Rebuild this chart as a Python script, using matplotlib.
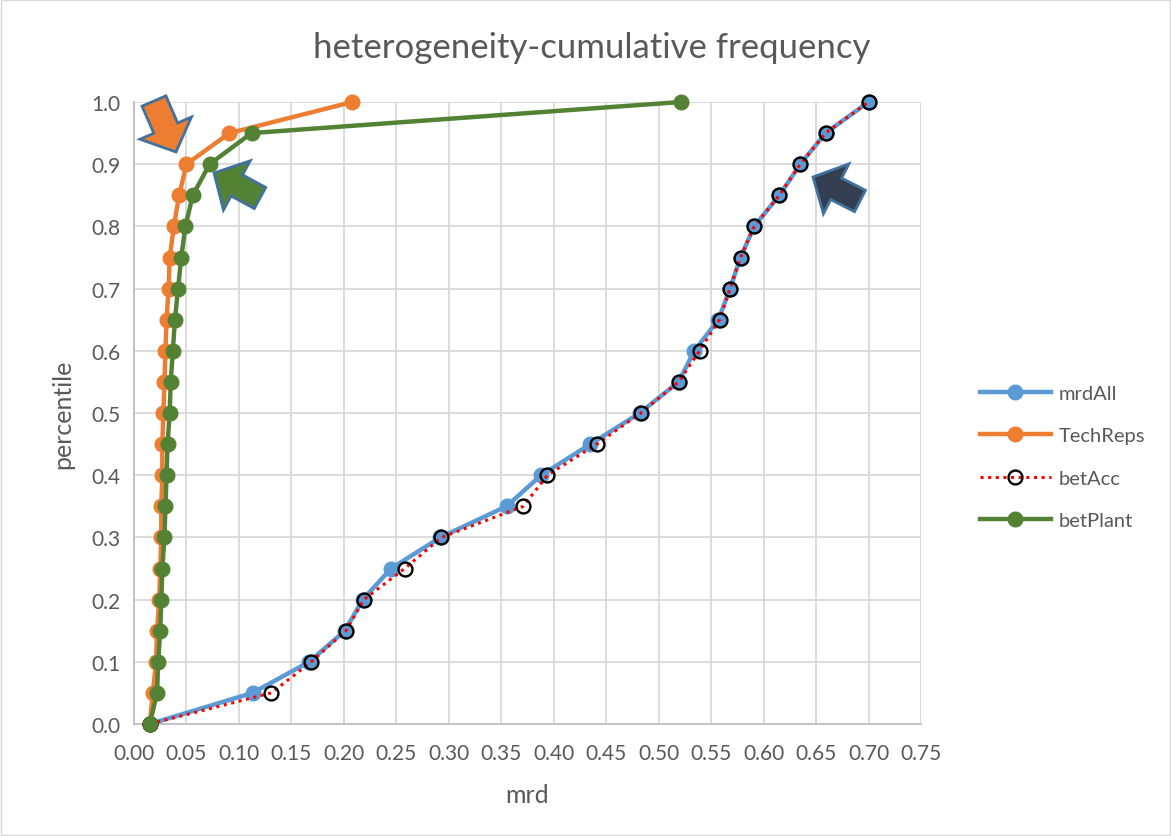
import numpy as np
import matplotlib
matplotlib.use('Agg')
import matplotlib.pyplot as plt
from matplotlib.patches import Polygon, Rectangle

plt.rcParams['font.family'] = ['Lato', 'DejaVu Sans']

percentile = [0.0, 0.05, 0.10, 0.15, 0.20, 0.25, 0.30, 0.35, 0.40, 0.45, 0.50,
              0.55, 0.60, 0.65, 0.70, 0.75, 0.80, 0.85, 0.90, 0.95, 1.0]

mrdAll = [0.015, 0.113, 0.167, 0.201, 0.218, 0.245, 0.292, 0.355, 0.388, 0.435, 0.482,
          0.519, 0.534, 0.557, 0.568, 0.578, 0.591, 0.615, 0.635, 0.659, 0.700]
techReps = [0.015, 0.018, 0.021, 0.022, 0.024, 0.025, 0.026, 0.026, 0.027, 0.027, 0.028,
            0.029, 0.030, 0.031, 0.033, 0.034, 0.038, 0.043, 0.050, 0.091, 0.208]
betAcc = [0.015, 0.131, 0.169, 0.202, 0.219, 0.258, 0.293, 0.371, 0.394, 0.441, 0.483,
          0.519, 0.539, 0.558, 0.568, 0.578, 0.591, 0.615, 0.635, 0.659, 0.700]
betPlant = [0.015, 0.022, 0.023, 0.025, 0.026, 0.027, 0.029, 0.030, 0.031, 0.032, 0.034,
            0.035, 0.037, 0.039, 0.042, 0.045, 0.049, 0.056, 0.072, 0.112, 0.521]

xticks = np.arange(0, 0.751, 0.05)
yticks = np.arange(0, 1.01, 0.1)

W, H = 1171, 837
fig = plt.figure(figsize=(W / 100, H / 100), dpi=100)
ax = fig.add_axes([134 / W, 1 - 725 / H, (921 - 134) / W, (725 - 103) / H])

blue = '#5B9BD5'
orange = '#ED7D31'
green = '#548235'
txt = '#595959'

ax.plot(mrdAll, percentile, color=blue, lw=3.2, marker='o', ms=10.5, label='mrdAll',
        zorder=3, clip_on=False)
ax.plot(techReps, percentile, color=orange, lw=3.2, marker='o', ms=10.5, label='TechReps',
        zorder=4, clip_on=False)
ax.plot(betAcc, percentile, color='red', lw=2.2, ls=(0, (1, 1.5)), marker='o', ms=10,
        mfc='none', mec='black', mew=1.7, label='betAcc', zorder=5, clip_on=False)
ax.plot(betPlant, percentile, color=green, lw=3.2, marker='o', ms=10.5, label='betPlant',
        zorder=6, clip_on=False)

ax.set_xlim(0, 0.75)
ax.set_ylim(0, 1.0)
ax.set_xticks(xticks)
ax.set_yticks(yticks)
ax.set_xticklabels(['%.2f' % v for v in xticks])
ax.set_yticklabels(['%.1f' % v for v in yticks])
ax.tick_params(length=0, labelsize=15, colors=txt)
ax.tick_params(axis='x', pad=14)
ax.tick_params(axis='y', pad=10)
ax.grid(color='#D9D9D9', lw=1.3)
ax.set_axisbelow(True)
for s in ['top', 'right']:
    ax.spines[s].set_visible(False)
for s in ['left', 'bottom']:
    ax.spines[s].set_color('#BFBFBF')
    ax.spines[s].set_linewidth(1.3)

ax.set_xlabel('mrd', fontsize=18, color=txt, labelpad=14)
ax.set_ylabel('percentile', fontsize=18, color=txt, labelpad=12)
fig.text(592 / W, 1 - 48 / H, 'heterogeneity-cumulative frequency', fontsize=25,
         color=txt, ha='center', va='center')

leg = fig.legend(loc='center left', bbox_to_anchor=(962 / W, 1 - 458 / H), frameon=False,
                 fontsize=14.5, labelcolor=txt, handlelength=3.5, labelspacing=1.25,
                 handletextpad=0.4)


def block_arrow(tail, tip, shaft_w, head_w, head_len, fc, ec='#41719C'):
    tail = np.array(tail, float)
    tip = np.array(tip, float)
    d = tip - tail
    L = np.hypot(*d)
    u = d / L
    n = np.array([-u[1], u[0]])
    base = tip - u * head_len
    pts = [tail + n * shaft_w / 2, base + n * shaft_w / 2, base + n * head_w / 2, tip,
           base - n * head_w / 2, base - n * shaft_w / 2, tail - n * shaft_w / 2]
    pts = [(p[0] / W, 1 - p[1] / H) for p in pts]
    fig.patches.append(Polygon(pts, closed=True, fc=fc, ec=ec, lw=2,
                               transform=fig.transFigure, zorder=10))


block_arrow((154, 102), (176, 153), 26, 56, 26, orange)
block_arrow((260, 199), (214, 174), 24, 56, 26, green)
block_arrow((860, 202), (813, 178), 24, 56, 26, '#333F50')

fig.patches.append(Rectangle((0.001, 0.001), 0.998, 0.998, fill=False, ec='#D9D9D9',
                             lw=1, transform=fig.transFigure))

fig.savefig('out.png', dpi=100)
